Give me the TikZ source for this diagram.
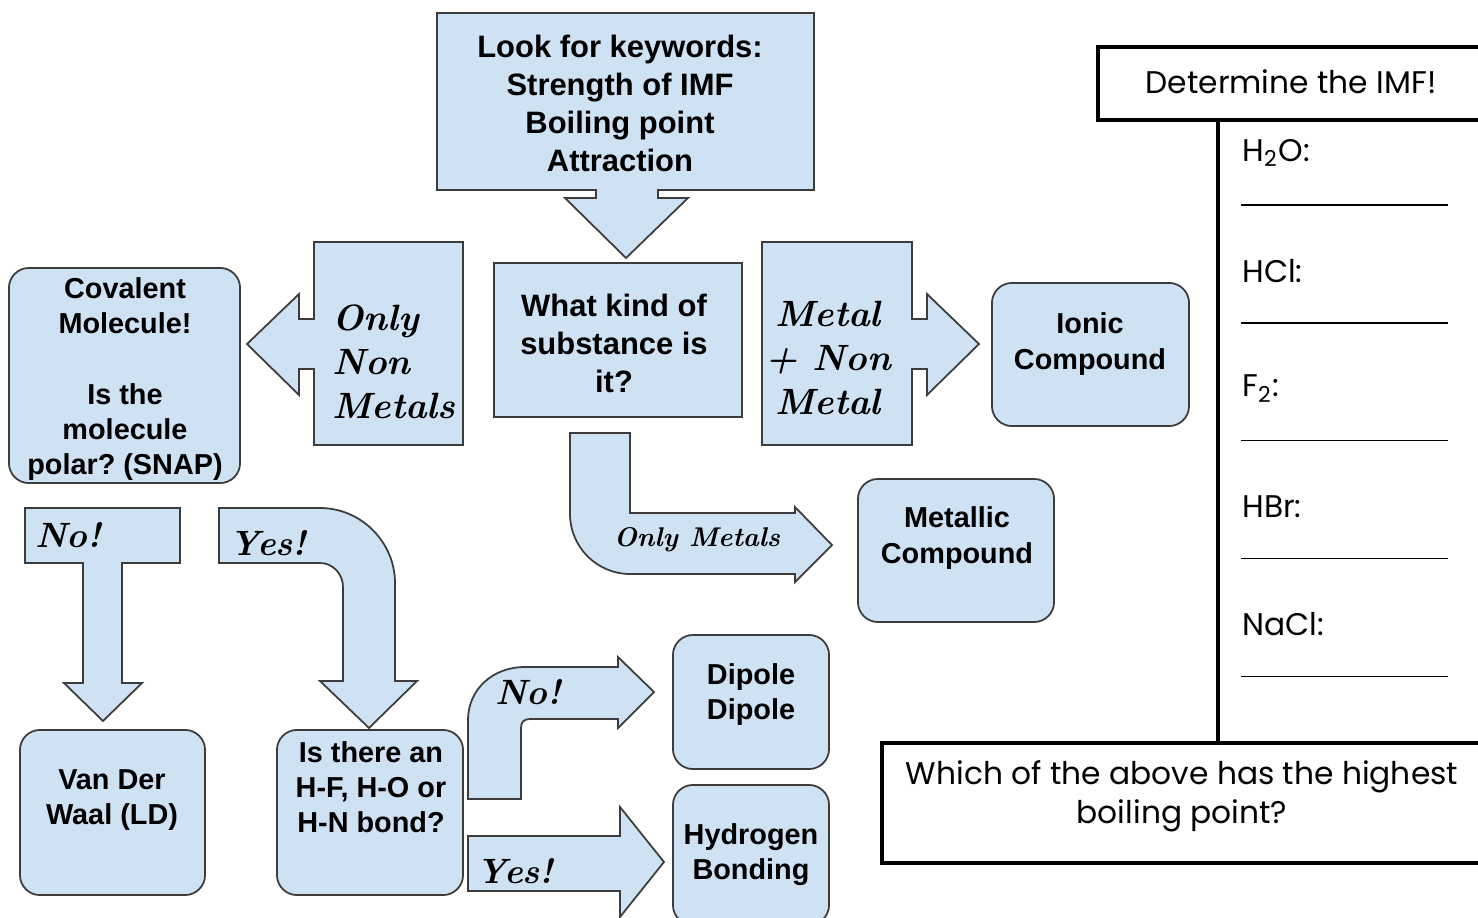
\documentclass[tikz,border=0pt]{standalone}
\usepackage{fontspec}
\setsansfont{Liberation Sans}
\newfontfamily\gothicfont{Poppins}
\usepackage{tikz}
\usetikzlibrary{positioning}
\usepackage{xcolor}
\definecolor{boxblue}{RGB}{207,226,243}
\definecolor{edgegray}{RGB}{60,60,60}
\frenchspacing

\begin{document}
\begin{tikzpicture}[x=0.01cm, y=-0.01cm,
    callout/.style={fill=boxblue, draw=edgegray, line width=0.5pt},
    sqbox/.style={callout, inner sep=0pt},
    rbox/.style={callout, rounded corners=0.2cm, inner sep=0pt},
    btext/.style={font=\sffamily\bfseries\fontsize{8.2}{10}\selectfont, align=center},
    bigtext/.style={font=\sffamily\bfseries\fontsize{8.8}{10.8}\selectfont, align=center},
    hand/.style={font=\rmfamily\bfseries\itshape\fontsize{10.4}{12.5}\selectfont},
    handmid/.style={font=\rmfamily\bfseries\itshape\fontsize{10}{12}\selectfont},
    handsmall/.style={font=\rmfamily\bfseries\itshape\fontsize{7.7}{10}\selectfont},
    panel/.style={draw=black, line width=1.15pt},
    ptext/.style={font=\gothicfont\fontsize{8.9}{11}\selectfont}]
    \useasboundingbox (0,0) rectangle (1478,918);

    % Callouts and block arrows
    \draw[callout] (437,13) -- (814,13) -- (814,190) -- (658,190) -- (658,198) -- (688,198)
        -- (626,258) -- (565,198) -- (596,198) -- (596,190) -- (437,190) -- cycle;
    \node[bigtext] (keywords) at (620,103) {Look for keywords:\\Strength of IMF\\Boiling point\\Attraction};

    \draw[callout] (463,242) -- (463,445) -- (314,445) -- (314,369) -- (299,369) -- (299,395)
        -- (247,344) -- (299,294) -- (299,319) -- (314,319) -- (314,242) -- cycle;
    \node[hand, align=left, anchor=west] (nonmetals) at (320,362) {Only\\Non\\Metals};

    \draw[callout] (762,242) -- (912,242) -- (912,319) -- (927,319) -- (927,294) -- (979,344)
        -- (927,395) -- (927,369) -- (912,369) -- (912,445) -- (762,445) -- cycle;
    \node[hand, align=center] (metalnon) at (828,358) {Metal\\+ Non\\Metal};

    \draw[callout] (570,433) -- (630,433) -- (630,513) -- (795,513) -- (795,507) -- (832,545)
        -- (795,582) -- (795,574) -- (630,574) .. controls (597,574) and (570,547) .. (570,514) -- cycle;
    \node[handsmall] (onlymetals) at (697,540) {Only Metals};

    \draw[callout] (25,508) -- (180,508) -- (180,563) -- (122,563) -- (122,683) -- (142,683)
        -- (103,721) -- (64,683) -- (83,683) -- (83,563) -- (25,563) -- cycle;
    \node[handmid] (nopolar) at (68,535) {No!};

    \draw[callout] (219,508) -- (320,508) .. controls (361,508) and (395,542) .. (395,583)
        -- (395,681) -- (417,681) -- (369,728) -- (320,681) -- (343,681) -- (343,587)
        .. controls (343,574) and (333,563) .. (320,563) -- (219,563) -- cycle;
    \node[handmid] (yespolar) at (268,543) {Yes!};

    \draw[callout] (468,799) -- (468,720) .. controls (468,690) and (492,667) .. (525,667)
        -- (618,667) -- (618,657) -- (654,692) -- (618,728) -- (618,719) -- (530,719)
        .. controls (524,719) and (521,722) .. (521,728) -- (521,799) -- cycle;
    \node[handmid] (nohbond) at (528,692) {No!};

    \draw[callout] (468,836) -- (620,836) -- (620,807) -- (664,862) -- (620,917) -- (620,891)
        -- (468,891) -- cycle;
    \node[handmid] (yeshbond) at (515,871) {Yes!};

    % Boxes
    \node[sqbox, minimum width=2.48cm, minimum height=1.54cm] (kind) at (618,340) {};
    \node[bigtext] (kindtxt) at (614,343) {What kind of\\substance is\\it?};
    \node[rbox, minimum width=2.31cm, minimum height=2.15cm] (covalent) at (124.5,375.5) {};
    \node[btext] (covalenttxt) at (125,379) {Covalent\\Molecule!\\[10pt]Is the\\molecule\\polar? (SNAP)};
    \node[rbox, minimum width=1.97cm, minimum height=1.43cm] (ionic) at (1090.5,354.5) {};
    \node[btext] (ionictxt) at (1090,344) {Ionic\\Compound};
    \node[rbox, minimum width=1.96cm, minimum height=1.43cm] (metallic) at (956,550.5) {};
    \node[btext] (metallictxt) at (957,538) {Metallic\\Compound};
    \node[rbox, minimum width=1.85cm, minimum height=1.65cm] (vdw) at (112.5,812.5) {};
    \node[btext] (vdwtxt) at (112,800) {Van Der\\Waal (LD)};
    \node[rbox, minimum width=1.86cm, minimum height=1.65cm] (hbond) at (370,812.5) {};
    \node[btext] (hbondtxt) at (371,787) {Is there an\\H-F, H-O or\\H-N bond?};
    \node[rbox, minimum width=1.56cm, minimum height=1.34cm] (dipole) at (751,702) {};
    \node[btext] (dipoletxt) at (751,694.5) {Dipole\\Dipole};
    \node[rbox, minimum width=1.56cm, minimum height=1.40cm] (hydrogen) at (751,855) {};
    \node[btext] (hydrogentxt) at (751,854.5) {Hydrogen\\Bonding};

    % Worksheet panel
    \draw[panel] (1098,47) rectangle (1500,120);
    \node[ptext] (imf) at (1291,82) {Determine the IMF!};
    \draw[panel] (1218,120) -- (1218,743);
    \foreach \lbl [count=\i from 0] in {{H\textsubscript{2}O:}, HCl:, {F\textsubscript{2}:}, HBr:, NaCl:} {
        \pgfmathsetmacro\ypos{153+117.8*\i}
        \node[ptext, anchor=west] (q\i) at (1230,\ypos) {\lbl};
        \draw[line width=0.4pt] (1241,\ypos+52) -- (1448,\ypos+52);
    }
    \draw[panel] (882,743) rectangle (1500,863);
    \node[ptext, align=center] (question) at (1182,796) {Which of the above has the highest\\boiling point?};
\end{tikzpicture}
\end{document}
